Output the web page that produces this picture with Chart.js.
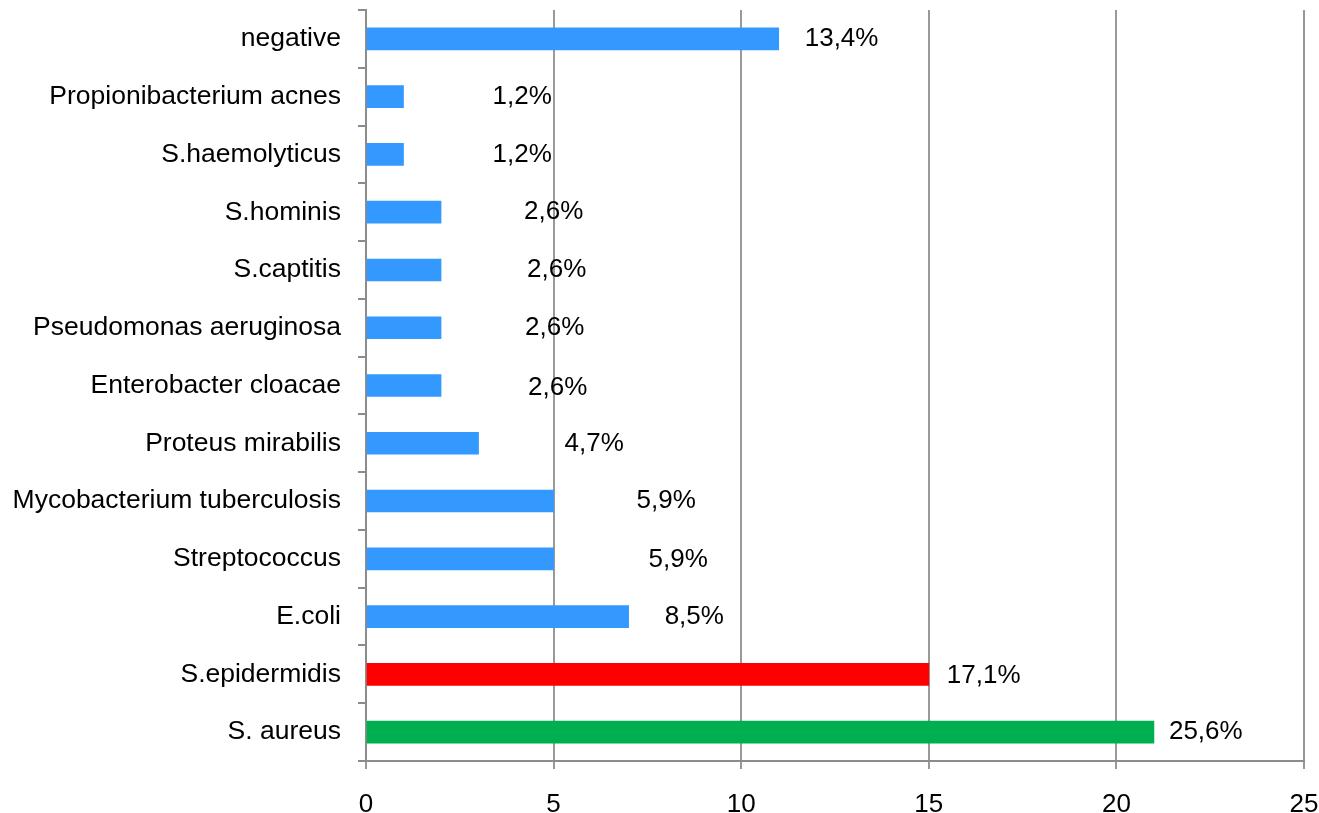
<!DOCTYPE html>
<html>
<head>
<meta charset="utf-8">
<script src="https://cdn.jsdelivr.net/npm/chart.js@4/dist/chart.umd.min.js"></script>
<style>
  html, body { margin: 0; padding: 0; background: #fff; }
  #wrap { width: 1319px; height: 813px; position: relative; }
</style>
</head>
<body>
<div id="wrap"><canvas id="grafico"></canvas></div>
<script>
// datos
const categorias = [
  "negative", "Propionibacterium acnes", "S.haemolyticus", "S.hominis",
  "S.captitis", "Pseudomonas aeruginosa", "Enterobacter cloacae",
  "Proteus mirabilis", "Mycobacterium tuberculosis", "Streptococcus",
  "E.coli", "S.epidermidis", "S. aureus"
];
const casos = [11, 1, 1, 2, 2, 2, 2, 3, 5, 5, 7, 15, 21];
const porcentajes = [
  "13,4%", "1,2%", "1,2%", "2,6%", "2,6%", "2,6%", "2,6%",
  "4,7%", "5,9%", "5,9%", "8,5%", "17,1%", "25,6%"
];
const ticksX = [0, 5, 10, 15, 20, 25];

const FUENTE = "'Liberation Sans', Arial, sans-serif";
const colorEspecial = { "S.epidermidis": "#ff0000", "S. aureus": "#00b050" };

// etiquetas de porcentaje (movidas a mano en el original)
const etiquetasPlugin = {
  id: "etiquetas",
  afterDatasetsDraw(chart, args, opts) {
    const ctx = chart.ctx;
    const meta = chart.getDatasetMeta(0);
    ctx.save();
    ctx.font = "26px " + FUENTE;
    ctx.fillStyle = "#000";
    ctx.textAlign = "left";
    ctx.textBaseline = "middle";
    meta.data.forEach((bar, i) => {
      ctx.fillText(porcentajes[i], bar.x + opts.gaps[i], bar.y + opts.dy[i]);
    });
    ctx.restore();
  }
};

// sin relleno automatico de los ejes
function sinPadding(axis) {
  axis.paddingTop = 0;
  axis.paddingBottom = 0;
  axis.paddingLeft = 0;
  axis.paddingRight = 0;
}

new Chart(document.getElementById("grafico"), {
  type: "bar",
  data: {
    labels: categorias,
    datasets: [{
      data: casos,
      backgroundColor: ctx => colorEspecial[categorias[ctx.dataIndex]] || "#3399ff",
      barThickness: 22,
      borderWidth: 0
    }]
  },
  options: {
    indexAxis: "y",
    responsive: true,
    maintainAspectRatio: false,
    animation: false,
    layout: { padding: { top: 10, right: 15, left: 0, bottom: 0 } },
    plugins: {
      legend: { display: false },
      tooltip: { enabled: false },
      etiquetas: {
        gaps: [26, 89, 89, 83, 86, 84, 87, 86, 83, 95, 36, 18, 15],
        dy: [0, 0, 0, 0, 0, 0, 2, 1, 0, 1, 0, 1, 0]
      }
    },
    scales: {
      x: {
        min: 0,
        max: 25,
        afterBuildTicks: axis => { axis.ticks = ticksX.map(v => ({ value: v })); },
        afterFit: axis => { axis.height = 52; sinPadding(axis); },
        grid: { color: "#999", lineWidth: 2, tickLength: 8 },
        border: { color: "#8c8c8c", width: 2 },
        ticks: { color: "#000", font: { size: 26, family: FUENTE }, padding: 20 }
      },
      y: {
        afterFit: axis => { axis.width = 366; sinPadding(axis); },
        grid: { drawOnChartArea: false, color: "#8c8c8c", lineWidth: 2, tickLength: 8, offset: true },
        border: { color: "#8c8c8c", width: 2 },
        ticks: { color: "#000", font: { size: 26.5, family: FUENTE }, padding: 17, autoSkip: false }
      }
    }
  },
  plugins: [etiquetasPlugin]
});
</script>
</body>
</html>
